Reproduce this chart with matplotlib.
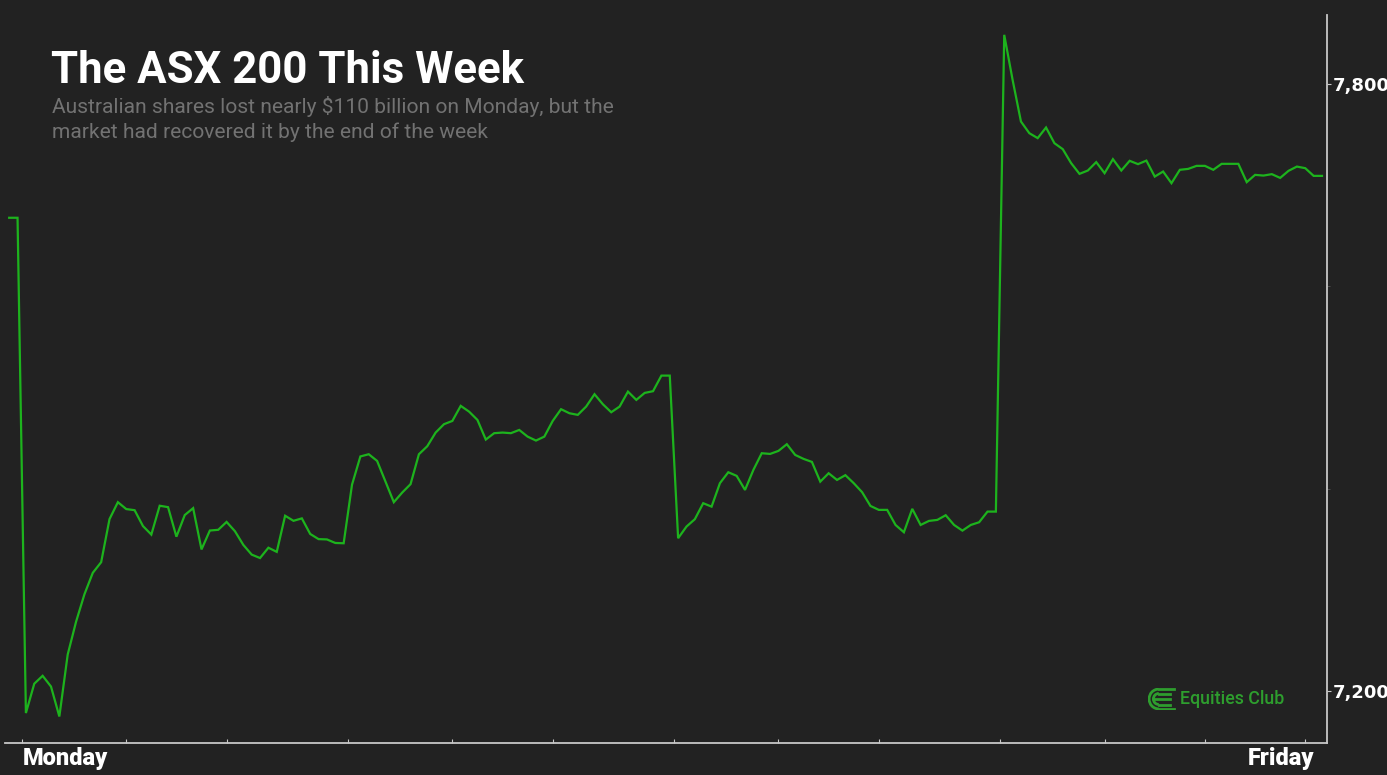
import matplotlib.pyplot as plt
from matplotlib.patches import Arc

# ASX 200 intraday values
values = [
    7667.6, 7667.6, 7178.1, 7207.1, 7214.9, 7204.3, 7174.7, 7236.0, 7268.4, 7295.5,
    7316.7, 7327.2, 7369.8, 7386.5, 7379.7, 7378.6, 7362.9, 7354.5, 7383.0, 7381.6,
    7352.4, 7373.8, 7380.6, 7339.8, 7358.5, 7359.2, 7367.0, 7357.8, 7344.3, 7334.7,
    7331.3, 7341.5, 7337.4, 7373.1, 7368.1, 7370.5, 7355.1, 7350.0, 7349.7, 7346.2,
    7345.9, 7403.8, 7431.7, 7433.9, 7427.3, 7406.8, 7386.5, 7396.0, 7404.3, 7433.9,
    7441.8, 7455.3, 7463.6, 7466.8, 7481.7, 7476.0, 7467.8, 7448.4, 7454.7, 7455.3,
    7454.7, 7457.9, 7451.3, 7447.4, 7451.3, 7466.8, 7478.4, 7474.4, 7472.8, 7481.0,
    7493.2, 7483.3, 7475.4, 7481.0, 7495.8, 7487.6, 7494.5, 7496.2, 7511.6, 7511.6,
    7350.9, 7362.4, 7369.7, 7385.5, 7382.1, 7405.3, 7416.1, 7412.5, 7398.6, 7418.4,
    7434.9, 7434.2, 7437.2, 7443.8, 7433.2, 7429.3, 7426.3, 7406.8, 7415.1, 7408.5,
    7413.2, 7405.3, 7396.4, 7382.8, 7378.9, 7378.9, 7364.0, 7356.8, 7379.9, 7364.0,
    7368.0, 7369.0, 7373.6, 7364.0, 7358.4, 7364.0, 7366.7, 7377.2, 7377.2, 7848.4,
    7803.9, 7762.7, 7751.2, 7746.3, 7756.8, 7741.3, 7735.4, 7721.6, 7711.0, 7714.3,
    7722.6, 7711.7, 7725.5, 7714.3, 7723.9, 7720.6, 7724.1, 7708.3, 7713.3, 7701.8,
    7715.0, 7715.9, 7718.9, 7718.9, 7715.0, 7720.9, 7720.9, 7720.9, 7702.8, 7710.0,
    7709.3, 7710.7, 7707.0, 7714.0, 7718.2, 7716.6, 7709.0, 7709.0,
]
x = list(range(len(values)))

y_ticks = [7200, 7800]
y_labels = ['7,200', '7,800']
x_ticks = [1.5, 14, 26, 40.5, 53, 65, 79.5, 92, 104, 118.5, 131, 143, 155]

title = 'The ASX 200 This Week'
subtitle = ('Australian shares lost nearly $110 billion on Monday, but the\n'
            'market had recovered it by the end of the week')

W, H = 1387, 775
bg = '#222222'
fig = plt.figure(figsize=(W / 100, H / 100), dpi=100)
fig.patch.set_facecolor(bg)

ax = fig.add_axes([5 / W, 32 / H, 1322 / W, 728 / H])
ax.set_facecolor(bg)
ax.plot(x, values, color='#1db31d', lw=1.6, solid_joinstyle='miter')
ax.set_xlim(-0.5, 157.6)
ax.set_ylim(7148.5, 7868)

for s in ['top', 'left']:
    ax.spines[s].set_visible(False)
for s in ['right', 'bottom']:
    ax.spines[s].set_color('#c8c8c8')
    ax.spines[s].set_linewidth(1.3)

ax.yaxis.tick_right()
ax.set_yticks(y_ticks)
ax.set_yticklabels(y_labels, fontfamily='DejaVu Sans', fontweight='heavy')
ax.set_yticks([7400, 7600], minor=True)
ax.tick_params(axis='y', which='major', colors='#c8c8c8', labelcolor='white',
               direction='out', length=3, pad=1, labelsize=13)
ax.tick_params(axis='y', which='minor', colors='#555555', direction='out', length=2)
ax.set_xticks(x_ticks)
ax.set_xticklabels([])
ax.tick_params(axis='x', colors='#c8c8c8', direction='in', length=3)

fig.text(23 / W, 1 - 759 / H, 'Monday', color='white', fontsize=17,
         fontweight='heavy', fontfamily='Roboto', va='center', ha='left')
fig.text(1314 / W, 1 - 759 / H, 'Friday', color='white', fontsize=17,
         fontweight='heavy', fontfamily='Roboto', va='center', ha='right')

fig.text(51 / W, 1 - 71 / H, title, color='white', fontsize=31.5,
         fontweight='bold', fontfamily='Roboto', va='center', ha='left')
fig.text(52 / W, 1 - 96 / H, subtitle, color='#727272', fontsize=15.1,
         fontfamily='Roboto', va='top', ha='left', linespacing=1.38)

# logo
green = '#2e9e2e'
fig.text(1180 / W, 1 - 699 / H, 'Equities Club', color=green, fontsize=12.8,
         fontweight='medium', fontfamily='Roboto', va='center', ha='left')
lax = fig.add_axes([1148 / W, (H - 710) / H, 28 / W, 22 / H])
lax.set_xlim(0, 1.3)
lax.set_ylim(0, 1)
lax.axis('off')
lax.add_patch(Arc((0.5, 0.5), 0.9, 0.9, theta1=90, theta2=270, color=green, lw=2))
lax.add_patch(Arc((0.5, 0.5), 0.5, 0.5, theta1=90, theta2=270, color=green, lw=2))
lax.plot([0.5, 1.2], [0.95, 0.95], color=green, lw=2)
lax.plot([0.5, 1.2], [0.05, 0.05], color=green, lw=2)
lax.plot([0.5, 1.0], [0.75, 0.75], color=green, lw=2)
lax.plot([0.5, 1.0], [0.25, 0.25], color=green, lw=2)
lax.plot([0.3, 1.0], [0.5, 0.5], color=green, lw=2)

fig.savefig('out.png', dpi=100, facecolor=bg)
